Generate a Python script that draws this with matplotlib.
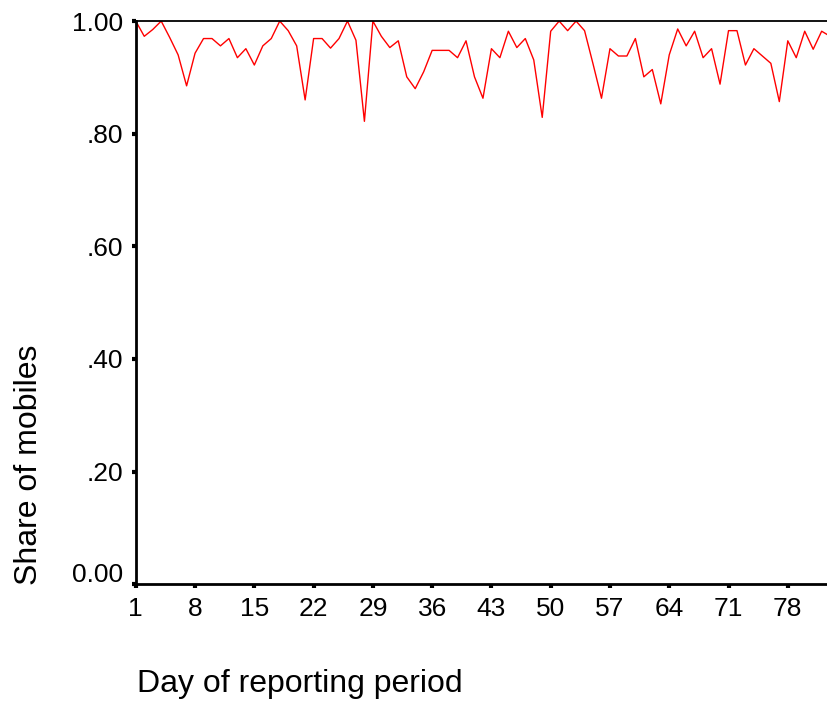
import numpy as np
import matplotlib
matplotlib.use("Agg")
import matplotlib.pyplot as plt
import matplotlib.transforms as mtransforms

plt.rcParams['font.family'] = ['Liberation Sans', 'DejaVu Sans']

# daily share of mobiles over the reporting period
days = list(range(1, 84))
share = [
    1.000, 0.973, 0.985, 1.000, 0.971, 0.940, 0.885, 0.943, 0.969, 0.969,
    0.956, 0.969, 0.935, 0.951, 0.922, 0.956, 0.969, 1.000, 0.983, 0.956,
    0.860, 0.969, 0.969, 0.952, 0.969, 1.000, 0.966, 0.822, 1.000, 0.973,
    0.953, 0.965, 0.901, 0.880, 0.910, 0.948, 0.948, 0.948, 0.935, 0.965,
    0.901, 0.863, 0.951, 0.935, 0.982, 0.953, 0.969, 0.931, 0.829, 0.982,
    1.000, 0.983, 1.000, 0.983, 0.924, 0.863, 0.951, 0.938, 0.938, 0.969,
    0.901, 0.914, 0.853, 0.940, 0.986, 0.956, 0.982, 0.935, 0.951, 0.888,
    0.983, 0.983, 0.922, 0.951, 0.938, 0.925, 0.857, 0.965, 0.935, 0.982,
    0.950, 0.982, 0.973,
]
x_ticks = [1, 8, 15, 22, 29, 36, 43, 50, 57, 64, 71, 78]
y_ticks = [0.0, 0.2, 0.4, 0.6, 0.8, 1.0]
y_labels = ["0.00", ".20", ".40", ".60", ".80", "1.00"]

fig = plt.figure(figsize=(8.28, 7.03), dpi=100)
ax = fig.add_axes([0.164, 0.169, 0.836, 0.801])

ax.plot(days, share, color="red", lw=1.0)

ax.set_xlim(1, 82.75)
ax.set_ylim(0, 1)
ax.set_xticks(x_ticks)
ax.set_yticks(y_ticks)
ax.set_yticklabels(y_labels)

ax.spines['right'].set_visible(False)
ax.spines['left'].set_linewidth(2)
ax.spines['bottom'].set_linewidth(2)
ax.spines['top'].set_linewidth(1.3)
ax.tick_params(direction='out', length=3, width=3, labelsize=19, pad=6)

# the lowest y label sits a little above its tick
lab0 = ax.get_yticklabels()[0]
lab0.set_transform(lab0.get_transform() +
                   mtransforms.ScaledTranslation(0, 12 / 100, fig.dpi_scale_trans))

fig.text(0.035, 0.339, "Share of mobiles", rotation=90, fontsize=23,
         ha='center', va='center')
fig.text(0.165, 0.0156, "Day of reporting period", fontsize=23,
         ha='left', va='baseline')

fig.savefig("out.png", dpi=100)
